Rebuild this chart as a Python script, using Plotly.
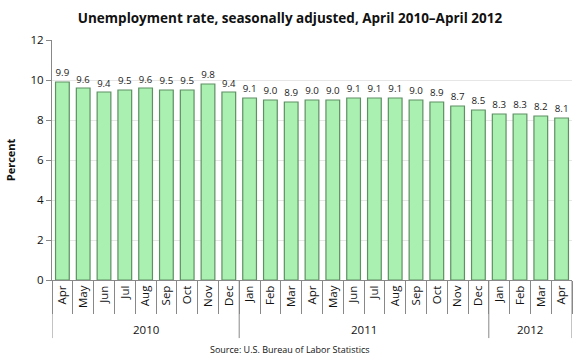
import plotly.graph_objects as go

months = ["Apr", "May", "Jun", "Jul", "Aug", "Sep", "Oct", "Nov", "Dec",
          "Jan", "Feb", "Mar", "Apr", "May", "Jun", "Jul", "Aug", "Sep", "Oct", "Nov", "Dec",
          "Jan", "Feb", "Mar", "Apr"]
years = ["2010"] * 9 + ["2011"] * 12 + ["2012"] * 4
rates = [9.9, 9.6, 9.4, 9.5, 9.6, 9.5, 9.5, 9.8, 9.4,
         9.1, 9.0, 8.9, 9.0, 9.0, 9.1, 9.1, 9.1, 9.0, 8.9, 8.7, 8.5,
         8.3, 8.3, 8.2, 8.1]
y_ticks = [0, 2, 4, 6, 8, 10, 12]

font = "Open Sans, Liberation Sans, sans-serif"
keys = [f"{y}-{m}" for y, m in zip(years, months)]

fig = go.Figure()
fig.add_trace(go.Bar(
    x=keys, y=rates,
    marker=dict(color="#aaf0b0", line=dict(color="#5f8f64", width=1.2)),
    text=[f"{v:.1f}" for v in rates], textposition="outside",
    textfont=dict(size=11.5, color="#1a1a1a", family=font),
    cliponaxis=False, width=0.66,
))

fig.update_layout(
    width=580, height=363,
    margin=dict(l=52, r=8, t=40, b=83),
    plot_bgcolor="white", paper_bgcolor="white",
    title=dict(text="<b>Unemployment rate, seasonally adjusted, April 2010–April 2012</b>",
               x=0.5, xanchor="center", y=0.95, yanchor="middle",
               font=dict(size=13.5, color="#111", family=font)),
    showlegend=False,
    font=dict(family=font, size=11, color="#111"),
    yaxis=dict(range=[0, 12], tickvals=y_ticks, showgrid=True, gridcolor="#e6e6e6",
               showline=True, linecolor="#888", ticks="outside", ticklen=5, tickcolor="#888",
               title=dict(text="<b>Percent</b>", font=dict(size=11), standoff=12),
               tickfont=dict(size=11.5), zeroline=False, automargin=False),
    xaxis=dict(type="category", categoryorder="array", categoryarray=keys,
               tickvals=keys, ticktext=months, range=[-0.5, len(keys) - 0.5],
               showline=True, linecolor="#888", automargin=False,
               tickangle=-90, ticks="outside", tickson="boundaries", ticklen=33,
               tickcolor="#888", tickfont=dict(size=11.5)),
)

# year group dividers and labels
groups = []
for i, y in enumerate(years):
    if not groups or groups[-1][0] != y:
        groups.append([y, i, i])
    else:
        groups[-1][2] = i
bounds = sorted({g[1] - 0.5 for g in groups} | {g[2] + 0.5 for g in groups})
for b in bounds:
    fig.add_shape(type="line", xref="x", yref="paper", x0=b, x1=b, y0=0, y1=-0.242,
                  line=dict(color="#888", width=1))
for y, i0, i1 in groups:
    fig.add_annotation(text=y, xref="x", yref="paper", x=(i0 + i1) / 2, y=-0.208,
                       xanchor="center", yanchor="middle", showarrow=False,
                       font=dict(size=11.5, color="#111", family=font))

fig.add_annotation(text="Source: U.S. Bureau of Labor Statistics", xref="paper", yref="paper",
                   x=0.458, y=-0.2875, xanchor="center", yanchor="middle", showarrow=False,
                   font=dict(size=9, color="#111", family=font))

fig.write_html("out.html", config={"displayModeBar": False},
               post_script="document.body.style.margin='0';document.body.style.overflow='hidden';")
